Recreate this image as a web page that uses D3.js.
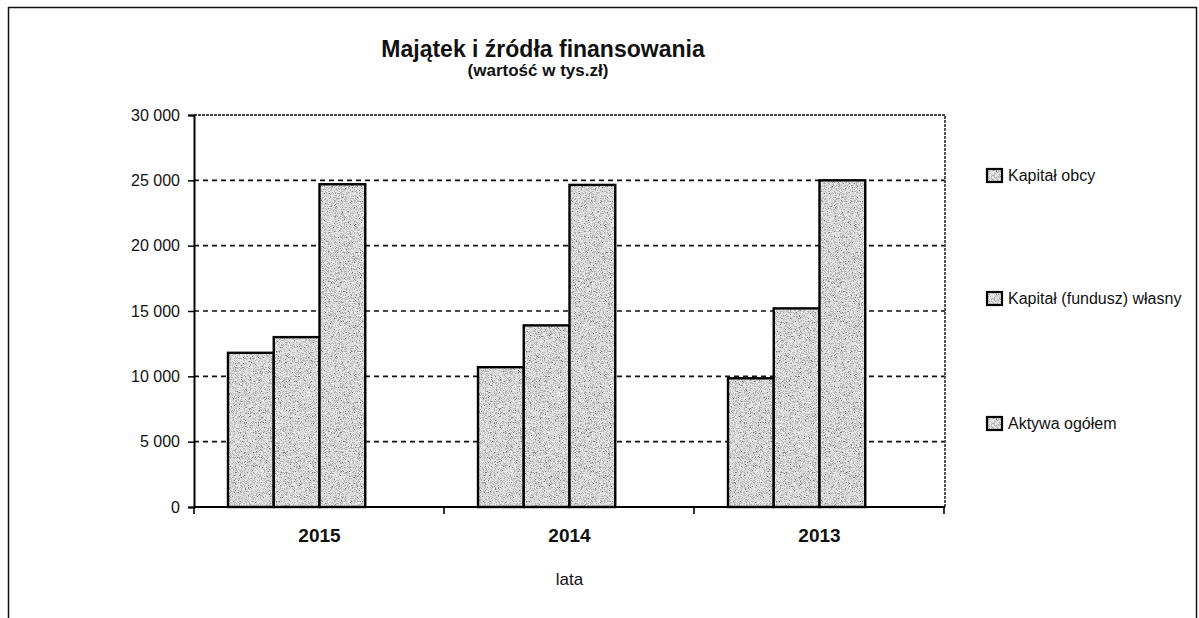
<!DOCTYPE html>
<html>
<head>
<meta charset="utf-8">
<script src="https://cdn.jsdelivr.net/npm/d3@7"></script>
<style>
  body { margin: 0; background: #fff; }
  text { font-family: "Liberation Sans", Arial, sans-serif; fill: #111; }
</style>
</head>
<body>
<div id="chart"></div>
<script>
// dane z wykresu (wartość w tys.zł)
let years = ["2015", "2014", "2013"];
let seriesNames = ["Kapitał obcy", "Kapitał (fundusz) własny", "Aktywa ogółem"];
let kapitalObcy = [11800, 10700, 9850];
let kapitalWlasny = [13000, 13900, 15200];
let aktywaOgolem = [24700, 24650, 25000];
let yTicks = [0, 5000, 10000, 15000, 20000, 25000, 30000];

let seriesValues = [kapitalObcy, kapitalWlasny, aktywaOgolem];

let width = 1199, height = 618;
let plot = { left: 194, right: 945, top: 115, bottom: 507 };

let svg = d3.select("#chart").append("svg")
    .attr("width", width).attr("height", height);

// faktura "kropkowana" jak na skanie
let defs = svg.append("defs");
let filt = defs.append("filter").attr("id", "grainF")
    .attr("x", 0).attr("y", 0).attr("width", 1).attr("height", 1);
filt.append("feTurbulence").attr("type", "fractalNoise")
    .attr("baseFrequency", 1.2).attr("numOctaves", 2).attr("seed", 7);
filt.append("feColorMatrix").attr("type", "matrix")
    .attr("values", "1 0 0 0 0  1 0 0 0 0  1 0 0 0 0  0 0 0 0 1");
let ct = filt.append("feComponentTransfer");
["feFuncR", "feFuncG", "feFuncB"].forEach(function (f) {
    ct.append(f).attr("type", "discrete").attr("tableValues", "0.05 0.2 0.45 0.68 0.82 0.93 1");
});
let pat = defs.append("pattern").attr("id", "stipple")
    .attr("patternUnits", "userSpaceOnUse").attr("width", 150).attr("height", 150);
pat.append("rect").attr("width", 150).attr("height", 150)
    .attr("fill", "#fff").attr("filter", "url(#grainF)");

// ramka całego obrazka
svg.append("rect")
    .attr("x", 8.5).attr("y", 7.5).attr("width", 1188).attr("height", 640)
    .attr("fill", "none").attr("stroke", "#111").attr("stroke-width", 1.5);

// skale
let x0 = d3.scaleBand().domain(years)
    .range([plot.left, plot.right])
    .paddingInner(0.268).paddingOuter(0.136);
// Excel zostawił miejsce na pustą 4. serię, więc słupki zajmują 3/4 grupy
let x1 = d3.scaleBand().domain(seriesNames)
    .range([0, x0.bandwidth() * 3 / 4]);
let y = d3.scaleLinear().domain([0, 30000]).range([plot.bottom, plot.top]);

// linie siatki
svg.append("g").selectAll("line")
    .data(yTicks.filter(d => d > 0 && d < 30000))
    .enter().append("line")
    .attr("x1", plot.left).attr("x2", plot.right)
    .attr("y1", d => y(d)).attr("y2", d => y(d))
    .attr("stroke", "#111").attr("stroke-width", 1.6)
    .attr("stroke-dasharray", "5,4");

// obramowanie obszaru wykresu (góra i prawa strona)
svg.append("path")
    .attr("d", `M${plot.left},${y(30000)}H${plot.right}V${plot.bottom}`)
    .attr("fill", "none").attr("stroke", "#444").attr("stroke-width", 1.8)
    .attr("stroke-dasharray", "3,1");

// słupki
let groups = svg.append("g").selectAll("g")
    .data(years)
    .enter().append("g")
    .attr("transform", d => `translate(${x0(d)},0)`);

groups.selectAll("rect")
    .data(function (d, i) {
        return seriesNames.map((s, k) => ({ name: s, value: seriesValues[k][i] }));
    })
    .enter().append("rect")
    .attr("x", d => x1(d.name))
    .attr("y", d => y(d.value))
    .attr("width", x1.bandwidth())
    .attr("height", d => y(0) - y(d.value))
    .attr("fill", "url(#stipple)")
    .attr("stroke", "#000").attr("stroke-width", 2.4);

// oś Y
let yAxis = d3.axisLeft(y).tickValues(yTicks).tickSize(6).tickPadding(8)
    .tickFormat(d => d3.format(",")(d).replace(/,/g, " "));
let gy = svg.append("g").attr("transform", `translate(${plot.left},0)`).call(yAxis);
gy.select(".domain").attr("stroke", "#000").attr("stroke-width", 2);
gy.selectAll(".tick line").attr("stroke", "#000").attr("stroke-width", 1.5);
gy.selectAll(".tick text").style("font-size", "16px").attr("fill", "#111");

// oś X - kreski na granicach kategorii
let bounds = d3.range(years.length + 1).map(i => plot.left + i * x0.step());
svg.append("line")
    .attr("x1", plot.left).attr("x2", plot.right)
    .attr("y1", plot.bottom).attr("y2", plot.bottom)
    .attr("stroke", "#000").attr("stroke-width", 2.2);
svg.append("g").selectAll("line")
    .data(bounds)
    .enter().append("line")
    .attr("x1", d => d).attr("x2", d => d)
    .attr("y1", plot.bottom).attr("y2", plot.bottom + 7)
    .attr("stroke", "#000").attr("stroke-width", 1.6);

svg.append("g").selectAll("text")
    .data(years)
    .enter().append("text")
    .attr("x", d => x0(d) + x0.bandwidth() / 2)
    .attr("y", 542)
    .attr("text-anchor", "middle")
    .style("font-size", "19px").style("font-weight", "bold")
    .text(d => d);

svg.append("text")
    .attr("x", x0("2014") + x0.bandwidth() / 2).attr("y", 585)
    .attr("text-anchor", "middle").style("font-size", "17px")
    .text("lata");

// tytuł
svg.append("text")
    .attr("x", 543).attr("y", 57)
    .attr("text-anchor", "middle")
    .style("font-size", "23px").style("font-weight", "bold")
    .text("Majątek i źródła finansowania");
svg.append("text")
    .attr("x", 538).attr("y", 76)
    .attr("text-anchor", "middle")
    .style("font-size", "17px").style("font-weight", "bold")
    .text("(wartość w tys.zł)");

// legenda
let legendY = [175, 298, 423];
let legend = svg.append("g").selectAll("g")
    .data(seriesNames)
    .enter().append("g")
    .attr("transform", (d, i) => `translate(987,${legendY[i]})`);
legend.append("rect")
    .attr("x", 0).attr("y", -6).attr("width", 15).attr("height", 13)
    .attr("fill", "url(#stipple)").attr("stroke", "#000").attr("stroke-width", 2.2);
legend.append("text")
    .attr("x", 21).attr("y", 6)
    .style("font-size", "16px")
    .text(d => d);
</script>
</body>
</html>
